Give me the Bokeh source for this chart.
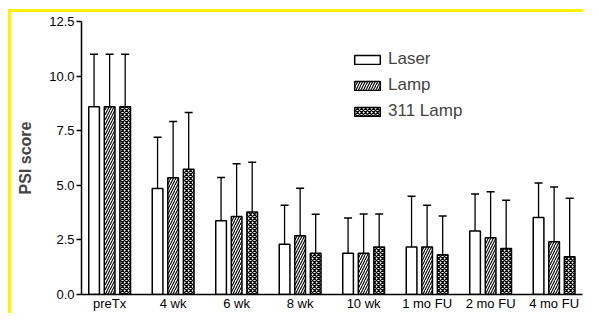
from bokeh.plotting import figure
from bokeh.models import (Range1d, FixedTicker, ColumnDataSource, Legend, LegendItem,
                          Whisker, TeeHead, NumeralTickFormatter)
from bokeh.embed import file_html
from bokeh.resources import INLINE

categories = ["preTx", "4 wk", "6 wk", "8 wk", "10 wk", "1 mo FU", "2 mo FU", "4 mo FU"]
series = ["Laser", "Lamp", "311 Lamp"]
laser = [8.6, 4.85, 3.38, 2.30, 1.89, 2.18, 2.91, 3.53]
lamp = [8.6, 5.35, 3.57, 2.69, 1.89, 2.18, 2.60, 2.42]
lamp311 = [8.6, 5.74, 3.78, 1.89, 2.18, 1.82, 2.11, 1.73]
laser_sd = [2.4, 2.35, 1.98, 1.79, 1.61, 2.32, 1.69, 1.58]
lamp_sd = [2.4, 2.57, 2.42, 2.17, 1.80, 1.91, 2.11, 2.50]
lamp311_sd = [2.4, 2.59, 2.28, 1.79, 1.51, 1.78, 2.20, 2.68]
y_ticks = [0.0, 2.5, 5.0, 7.5, 10.0, 12.5]

YELLOW = "#FFF100"
FONT = "Arial"
W, H = 583, 313

bg = (f"linear-gradient({YELLOW},{YELLOW}) 8px 9px / 3px {H - 9}px no-repeat, "
      f"linear-gradient({YELLOW},{YELLOW}) 8px 9px / {W - 8}px 3px no-repeat, #ffffff")

p = figure(width=W, height=H, output_backend="svg", toolbar_location=None,
           x_range=Range1d(-0.443, 7.447), y_range=Range1d(0, 12.5),
           min_border_left=81, min_border_top=21, min_border_bottom=16, min_border_right=1,
           background_fill_color="white", border_fill_alpha=0,
           styles={"background": bg})
p.outline_line_color = None
p.grid.visible = False

offsets = [-0.245, 0.0, 0.245]
means = [laser, lamp, lamp311]
sds = [laser_sd, lamp_sd, lamp311_sd]
hatches = [None, "right_diagonal_line", "diagonal_cross"]
hscale = [1, 5, 4]
hweight = [1, 1.1, 1.3]
items = []
for k in range(3):
    xs = [i + offsets[k] for i in range(len(categories))]
    src = ColumnDataSource(dict(x=xs, top=means[k],
                                upper=[m + s for m, s in zip(means[k], sds[k])]))
    kw = {}
    if hatches[k]:
        kw = dict(hatch_pattern=hatches[k], hatch_color="black", hatch_scale=hscale[k],
                  hatch_weight=hweight[k])
    r = p.vbar(x="x", top="top", bottom=0, width=0.168, source=src,
               fill_color="white", line_color="black", line_width=1.5, **kw)
    w = Whisker(source=src, base="x", lower="top", upper="upper", dimension="height",
                line_color="black", line_width=1.3,
                upper_head=TeeHead(size=8, line_color="black", line_width=1.5),
                lower_head=None)
    p.add_layout(w)
    items.append(LegendItem(label=series[k], renderers=[r]))

legend = Legend(items=items, location=(270, 173), glyph_width=32, glyph_height=11,
                label_text_font=FONT, label_text_font_size="17px",
                label_standoff=5, spacing=6, padding=0, margin=0,
                border_line_color=None, background_fill_alpha=0)
p.add_layout(legend)

p.yaxis.ticker = FixedTicker(ticks=y_ticks)
p.yaxis.formatter = NumeralTickFormatter(format="0.0")
p.yaxis.major_tick_out = 5
p.yaxis.major_tick_in = 0
p.yaxis.minor_tick_line_color = None
p.yaxis.major_label_standoff = 2
p.yaxis.axis_label = "PSI score"
p.yaxis.axis_label_text_font = FONT
p.yaxis.axis_label_text_font_style = "bold"
p.yaxis.axis_label_text_font_size = "16px"
p.yaxis.axis_label_standoff = 12

p.xaxis.ticker = FixedTicker(ticks=list(range(len(categories))))
p.xaxis.major_label_overrides = {i: c for i, c in enumerate(categories)}
p.xaxis.major_tick_out = 0
p.xaxis.major_tick_in = 0
p.xaxis.minor_tick_line_color = None
p.xaxis.major_label_standoff = 1

for ax in (p.xaxis, p.yaxis):
    ax.axis_line_color = "black"
    ax.axis_line_width = 1.5
    ax.major_tick_line_width = 1.5
    ax.major_label_text_font = FONT
    ax.major_label_text_font_size = "13px"
    ax.major_label_text_color = "black"

open("out.html", "w").write(file_html(p, INLINE))
